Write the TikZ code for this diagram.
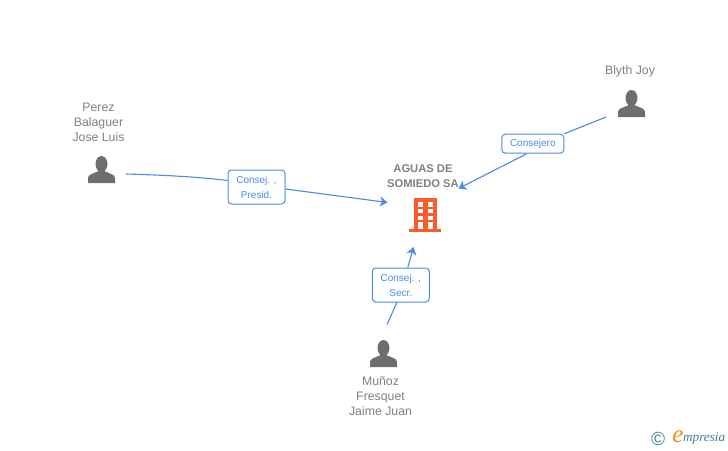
\documentclass[tikz,border=0pt]{standalone}
\usepackage{fontspec}
\setmainfont{Liberation Sans}
\newfontfamily\logofont{Liberation Serif}
\usetikzlibrary{arrows.meta}
\definecolor{linkblue}{HTML}{4A8AE8}
\definecolor{namegray}{HTML}{808080}
\definecolor{icongray}{HTML}{6E6E6E}
\definecolor{firmorange}{HTML}{FF5A2C}
\definecolor{logoteal}{HTML}{3F7F96}
\definecolor{logoorange}{HTML}{F08A1D}
\tikzset{
  personname/.style={text=namegray,font=\fontsize{12.3}{15}\selectfont,align=center,inner sep=0pt},
  firm/.style={text=namegray,font=\fontsize{11.2}{15}\selectfont\bfseries,align=center,inner sep=0pt},
  role/.style={draw=linkblue,fill=white,rounded corners=3.5pt,line width=1pt,text=linkblue,
    font=\fontsize{10}{15}\selectfont,align=center,inner sep=0pt},
  link/.style={draw=linkblue,line width=1.1pt},
  linkarrow/.style={-{Stealth[length=7.5pt,width=10pt,inset=2pt]}},
  person/.pic={
    \fill[icongray] (0,-6) ellipse (6 and 8);
    \fill[icongray] (-3.5,-2) rectangle (3.5,4);
    \fill[icongray] (-13.5,13) -- (-13.5,8) .. controls (-13.5,4.5) and (-9,4) .. (-4,1.5)
      -- (4,1.5) .. controls (9,4) and (13.5,4.5) .. (13.5,8) -- (13.5,13) -- cycle;
  }
}
\begin{document}
\begin{tikzpicture}[x=1pt,y=-1pt]
\useasboundingbox (0,0) rectangle (728,450);
% people
\pic at (101.5,170) {person};
\pic at (631.5,104) {person};
\pic at (383.5,354) {person};
\node [personname] (perez) at (98.5,122) {Perez\\Balaguer\\Jose Luis};
\node [personname] (blyth) at (630,71.5) {Blyth Joy};
\node [personname] (munoz) at (380.5,396) {Muñoz\\Fresquet\\Jaime Juan};
% firm
\node [firm] (aguas) at (423,176) {AGUAS DE\\SOMIEDO SA};
\fill [firmorange] (414,198) rectangle (436.5,230);
\fill [firmorange] (409,228.5) rectangle (441,232);
\foreach \yy/\hh in {201.5/5,208.8/4.5,215.5/4}
  \foreach \xx in {417.5,427.8}
    \fill [white] (\xx,\yy) rectangle +(5,\hh);
\foreach \xx in {417.5,427.8}
  \fill [white] (\xx,222.3) rectangle +(5,6.2);
% connectors
\coordinate (perezend) at (126,174);
\coordinate (blythend) at (606,117);
\coordinate (munozend) at (387,324.5);
\coordinate (tofirmleft) at (387.5,202.5);
\coordinate (tofirmright) at (458.5,188.5);
\coordinate (tofirmbelow) at (413.5,247);
\node [role,minimum width=57pt,minimum height=34pt] (presid) at (256.5,187) {Consej. ,\\Presid.};
\node [role,minimum width=62pt,minimum height=19pt] (consejero) at (532.8,143.7) {Consejero};
\node [role,minimum width=57pt,minimum height=34pt] (secr) at (400.8,285) {Consej. ,\\Secr.};
\draw [link] (perezend) .. controls (160,175) and (195,176.5) .. ([yshift=6.5pt]presid.west);
\draw [link,linkarrow] ([yshift=-2pt]presid.east) -- (tofirmleft);
\draw [link] (blythend) -- (consejero.north east);
\draw [link,linkarrow] ([xshift=-6pt]consejero.south) -- (tofirmright);
\draw [link] (munozend) -- ([xshift=-4pt]secr.south);
\draw [link,linkarrow] ([xshift=7pt]secr.north) -- (tofirmbelow);
% logo
\node [text=logoteal,font=\fontsize{19}{19}\selectfont,inner sep=0pt] (copyr) at (658,439) {©};
\node [text=logoorange,font=\logofont\itshape\fontsize{25}{25}\selectfont,inner sep=0pt] (logoe) at (678,436.5) {e};
\node [text=logoteal,font=\logofont\itshape\fontsize{13.2}{13.2}\selectfont,inner sep=0pt,anchor=west] (logotext) at (683,439) {mpresia};
\end{tikzpicture}
\end{document}
